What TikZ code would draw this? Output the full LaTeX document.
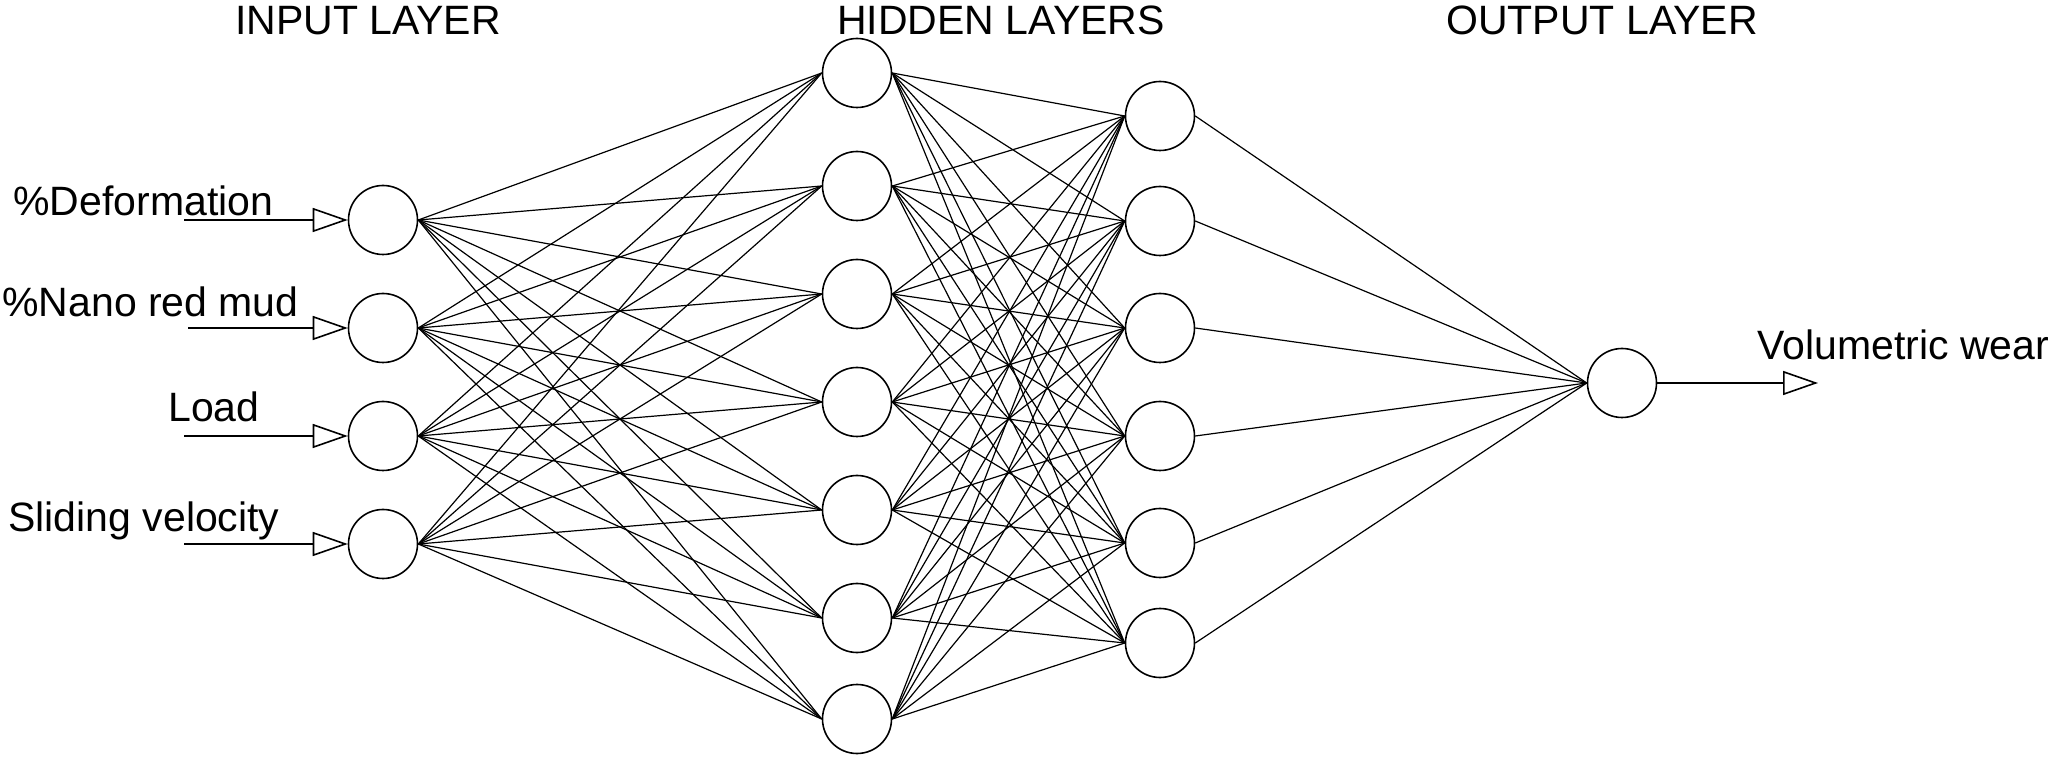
\documentclass[tikz,border=0pt]{standalone}
\usepackage{fontspec}
\setmainfont{Liberation Sans}
\usetikzlibrary{arrows.meta}

\tikzset{
  neuron/.style={draw, circle, line width=0.8pt, minimum size=34.5pt, inner sep=0pt},
  link/.style={line width=0.6pt},
  inarrow/.style={line width=0.8pt, -{Triangle[open, length=17.5pt, width=12pt]}},
  lab/.style={anchor=base west, inner sep=0pt, font=\fontsize{20.5}{24}\selectfont},
  head/.style={anchor=base, inner sep=0pt, font=\fontsize{20.5}{24}\selectfont}
}

\begin{document}
\begin{tikzpicture}[x=0.5pt, y=-0.5pt]
    \useasboundingbox (0,0) rectangle (2052,764);
    \node[head] (tin) at (368,35) {INPUT LAYER};
    \node[head] (thid) at (1001,35) {HIDDEN LAYERS};
    \node[head] (tout) at (1602,35) {OUTPUT LAYER};
    \foreach \y/\sx/\lx/\ly/\txt [count=\k] in {220/184/13/216/\%Deformation,
        328/188/2/317/\%Nano red mud, 436/184/168/422/Load,
        544/184/8/532/Sliding velocity} {
      \node[neuron] (i\k) at (383,\y) {};
      \coordinate (s\k) at (\sx,\y);
      \draw[inarrow] (s\k) -- (i\k.west);
      \node[lab] (l\k) at (\lx,\ly) {\txt};
    }
    \foreach \y [count=\k] in {73,186,294,402,510,618,719}
      \node[neuron] (h\k) at (857,\y) {};
    \foreach \y [count=\k] in {116,221,328,436,543,643}
      \node[neuron] (g\k) at (1160,\y) {};
    \node[neuron] (o) at (1622,383) {};
    \foreach \a in {1,...,4}
      \foreach \b in {1,...,7}
        \draw[link] (i\a.east) -- (h\b.west);
    \foreach \a in {1,...,7}
      \foreach \b in {1,...,6}
        \draw[link] (h\a.east) -- (g\b.west);
    \foreach \a in {1,...,6}
      \draw[link] (g\a.east) -- (o.west);
    \coordinate (e) at (1818,383);
    \draw[inarrow] (o.east) -- (e);
    \node[lab] (lo) at (1757,360) {Volumetric wear};
\end{tikzpicture}
\end{document}
